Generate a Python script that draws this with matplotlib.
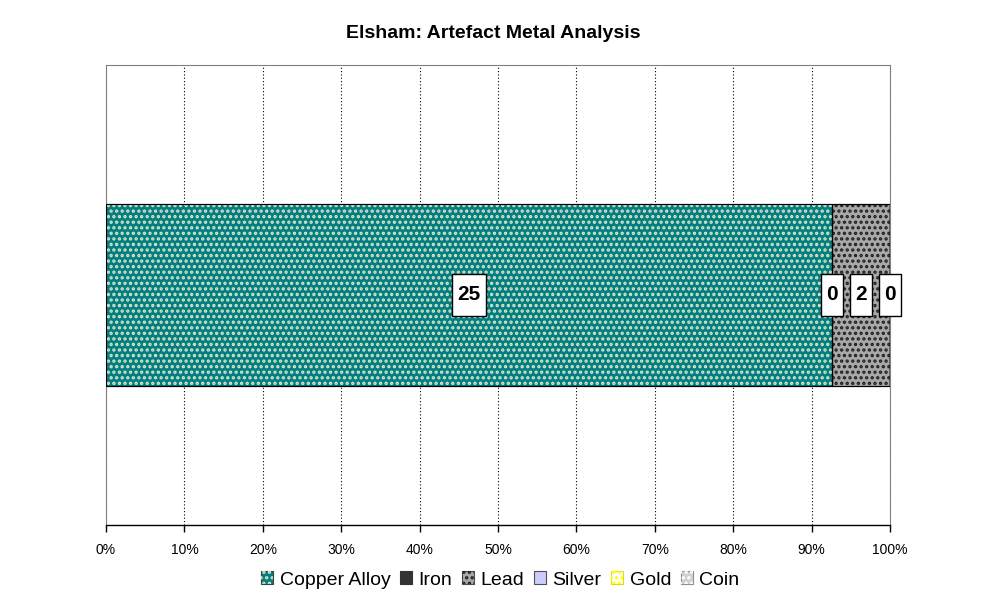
import matplotlib.pyplot as plt
import matplotlib.patches as mpatches
from matplotlib.legend_handler import HandlerTuple
from matplotlib.path import Path
import numpy as np

plt.rcParams['font.family'] = ['Liberation Sans', 'DejaVu Sans']

categories = ['Copper Alloy', 'Iron', 'Lead', 'Silver', 'Gold', 'Coin']
counts = [25, 0, 2, 0, 0, 0]
labelled = [True, True, True, True, False, False]
face_colors = ['#008080', '#333333', '#A8A8A8', '#CCCCFF', '#FFFFFF', '#D0D0D0']
hatch_colors = ['#E0E0C8', None, '#202020', None, '#FFFF00', '#FFFFFF']
legend_borders = ['#404040', '#333333', '#505050', '#505050', '#E0E000', '#909090']
x_ticks = np.arange(0, 101, 10)
x_tick_labels = [f'{t}%' for t in x_ticks]


def tall_box(x0, y0, width, height, mutation_size):
    # label box like Excel: narrow side padding, tall overall
    padx = 0.25 * mutation_size
    h = 2.0 * mutation_size
    cy = y0 + height / 2
    x0, x1 = x0 - padx, x0 + width + padx
    y0, y1 = cy - h / 2, cy + h / 2
    return Path([(x0, y0), (x1, y0), (x1, y1), (x0, y1), (x0, y0)], closed=True)


fig = plt.figure(figsize=(9.87, 6.06), dpi=100)
ax = fig.add_axes([106 / 987, 1 - 525 / 606, 784 / 987, 460 / 606])

total = sum(counts)
shares = np.array(counts) / total * 100
lefts = np.concatenate([[0], np.cumsum(shares)[:-1]])
bar_h = 0.396

ax.set_axisbelow(True)
ax.xaxis.grid(True, color='black', linestyle=(0, (1, 2)), linewidth=0.8)

plt.rcParams['hatch.linewidth'] = 1.6
for i, name in enumerate(categories):
    ax.barh(0, shares[i], left=lefts[i], height=bar_h, color=face_colors[i],
            edgecolor='black', linewidth=0.8, zorder=2)
    if hatch_colors[i] and shares[i] > 0:
        ax.barh(0, shares[i], left=lefts[i], height=bar_h, facecolor='none',
                edgecolor=hatch_colors[i], hatch='...', linewidth=0, zorder=3)
    ax.barh(0, shares[i], left=lefts[i], height=bar_h, facecolor='none',
            edgecolor='black', linewidth=0.8, zorder=4)

for i, name in enumerate(categories):
    if labelled[i]:
        ax.text(lefts[i] + shares[i] / 2, 0, str(counts[i]), ha='center', va='center',
                fontsize=15, fontweight='bold', zorder=6,
                bbox=dict(boxstyle=tall_box, facecolor='white',
                          edgecolor='black', linewidth=1))

ax.set_xlim(0, 100)
ax.set_ylim(-0.5, 0.5)
ax.set_yticks([])
ax.set_xticks(x_ticks)
ax.set_xticklabels(x_tick_labels, fontsize=10)
ax.tick_params(axis='x', direction='out', length=5, width=1, pad=8)
for side in ['top', 'right', 'left']:
    ax.spines[side].set_color('#808080')
    ax.spines[side].set_linewidth(0.8)
ax.spines['bottom'].set_color('black')
ax.spines['bottom'].set_linewidth(1)

fig.text(0.5, 1 - 33 / 606, 'Elsham: Artefact Metal Analysis', ha='center', va='center',
         fontsize=14, fontweight='bold')

handles = []
for i, name in enumerate(categories):
    base = mpatches.Patch(facecolor=face_colors[i], edgecolor=legend_borders[i], linewidth=0.8)
    if hatch_colors[i]:
        dots = mpatches.Patch(facecolor='none', edgecolor=hatch_colors[i], hatch='...',
                              linewidth=0)
        handles.append((base, dots))
    else:
        handles.append(base)
fig.legend(handles, categories, loc='center', bbox_to_anchor=(0.507, 1 - 580 / 606), ncol=6,
           frameon=False, fontsize=14, handlelength=0.6, handleheight=0.6,
           handletextpad=0.35, columnspacing=0.5,
           handler_map={tuple: HandlerTuple(ndivide=1, pad=0)})

plt.savefig('out.png', dpi=100)
